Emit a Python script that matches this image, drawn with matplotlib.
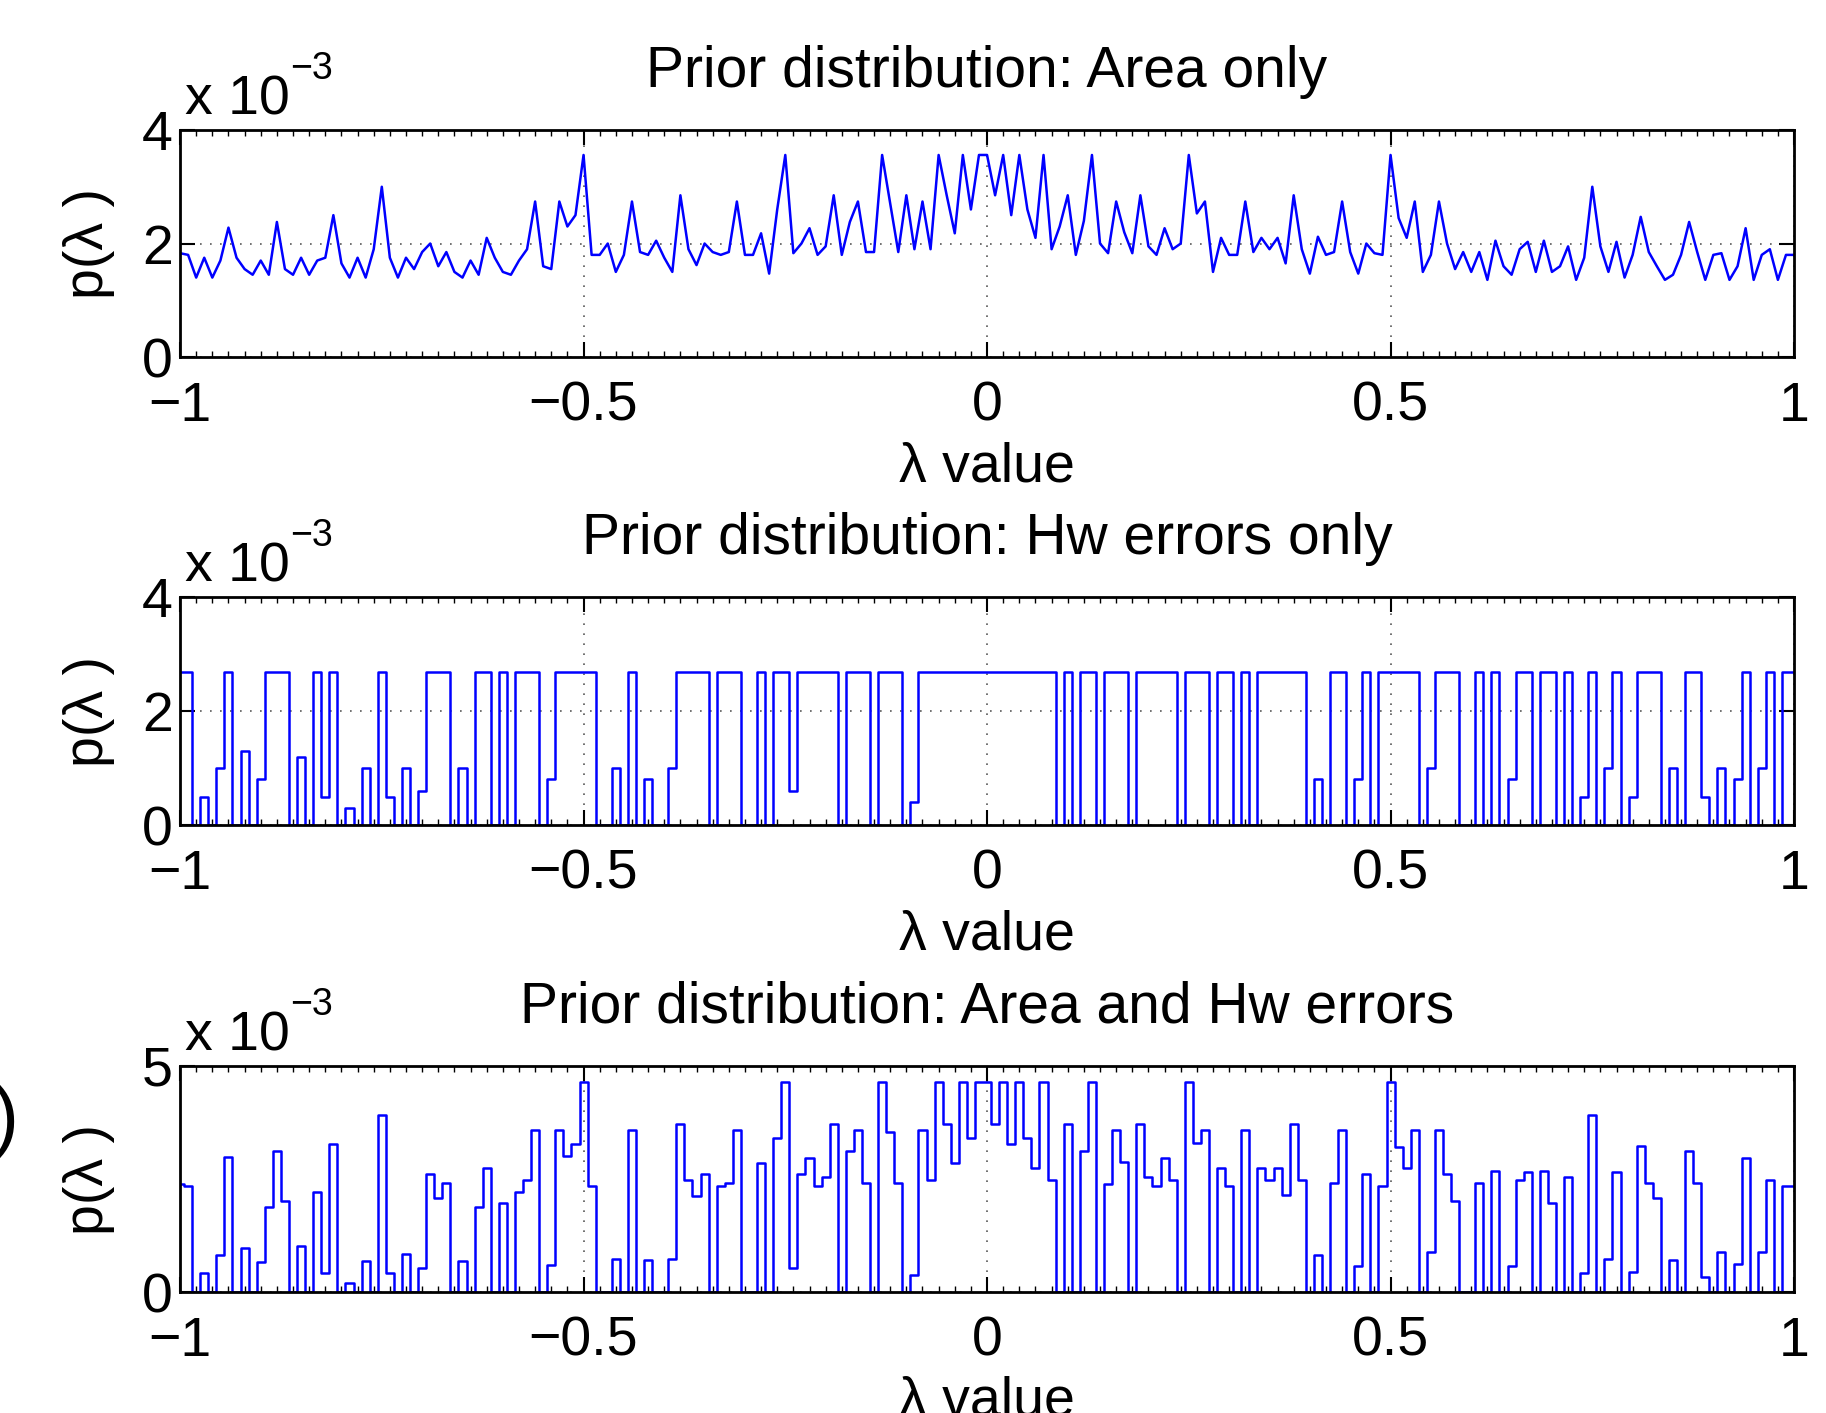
import numpy as np
import matplotlib
matplotlib.use('Agg')
import matplotlib.pyplot as plt
from matplotlib.ticker import MultipleLocator

plt.rcParams['font.family'] = ['Liberation Sans', 'DejaVu Sans']

# lambda grid, step 0.01
lam = np.linspace(-1, 1, 201)

# p(lambda) in units of 1e-3
p_area = [
    1.83, 1.80, 1.40, 1.75, 1.40, 1.70, 2.28, 1.75, 1.55, 1.45,
    1.70, 1.45, 2.38, 1.55, 1.45, 1.75, 1.45, 1.70, 1.75, 2.50,
    1.65, 1.40, 1.75, 1.40, 1.90, 3.00, 1.75, 1.40, 1.75, 1.55,
    1.85, 2.00, 1.60, 1.85, 1.50, 1.40, 1.70, 1.45, 2.10, 1.75,
    1.50, 1.45, 1.70, 1.90, 2.74, 1.60, 1.55, 2.74, 2.30, 2.50,
    3.56, 1.80, 1.80, 2.00, 1.50, 1.80, 2.74, 1.85, 1.80, 2.05,
    1.75, 1.50, 2.85, 1.90, 1.62, 2.00, 1.85, 1.80, 1.85, 2.74,
    1.80, 1.80, 2.18, 1.47, 2.60, 3.56, 1.83, 2.00, 2.27, 1.80,
    1.95, 2.85, 1.80, 2.38, 2.74, 1.85, 1.85, 3.56, 2.70, 1.85,
    2.85, 1.90, 2.74, 1.90, 3.56, 2.85, 2.18, 3.56, 2.60, 3.56,
    3.56, 2.85, 3.56, 2.50, 3.56, 2.60, 2.10, 3.56, 1.90, 2.30,
    2.85, 1.80, 2.40, 3.56, 2.00, 1.83, 2.74, 2.20, 1.83, 2.85,
    1.95, 1.80, 2.27, 1.90, 2.00, 3.56, 2.53, 2.74, 1.50, 2.10,
    1.80, 1.80, 2.74, 1.85, 2.10, 1.90, 2.10, 1.65, 2.85, 1.90,
    1.47, 2.12, 1.80, 1.85, 2.74, 1.85, 1.47, 2.00, 1.83, 1.80,
    3.56, 2.45, 2.10, 2.74, 1.50, 1.80, 2.74, 2.00, 1.55, 1.85,
    1.50, 1.85, 1.36, 2.05, 1.60, 1.45, 1.90, 2.03, 1.50, 2.05,
    1.50, 1.60, 1.95, 1.36, 1.75, 3.00, 1.95, 1.50, 2.03, 1.40,
    1.80, 2.47, 1.85, 1.60, 1.36, 1.45, 1.80, 2.38, 1.85, 1.36,
    1.80, 1.83, 1.36, 1.60, 2.27, 1.36, 1.80, 1.90, 1.36, 1.80,
    1.80,
]

p_hw = [
    2.68, 2.68, 0, 0.5, 0, 1.0, 2.68, 0, 1.3, 0,
    0.8, 2.68, 2.68, 2.68, 0, 1.2, 0, 2.68, 0.5, 2.68,
    0, 0.3, 0, 1.0, 0, 2.68, 0.5, 0, 1.0, 0,
    0.6, 2.68, 2.68, 2.68, 0, 1.0, 0, 2.68, 2.68, 0,
    2.68, 0, 2.68, 2.68, 2.68, 0, 0.8, 2.68, 2.68, 2.68,
    2.68, 2.68, 0, 0, 1.0, 0, 2.68, 0, 0.8, 0,
    0, 1.0, 2.68, 2.68, 2.68, 2.68, 0, 2.68, 2.68, 2.68,
    0, 0, 2.68, 0, 2.68, 2.68, 0.6, 2.68, 2.68, 2.68,
    2.68, 2.68, 0, 2.68, 2.68, 2.68, 0, 2.68, 2.68, 2.68,
    0, 0.4, 2.68, 2.68, 2.68, 2.68, 2.68, 2.68, 2.68, 2.68,
    2.68, 2.68, 2.68, 2.68, 2.68, 2.68, 2.68, 2.68, 2.68, 0,
    2.68, 0, 2.68, 2.68, 0, 2.68, 2.68, 2.68, 0, 2.68,
    2.68, 2.68, 2.68, 2.68, 0, 2.68, 2.68, 2.68, 0, 2.68,
    2.68, 0, 2.68, 0, 2.68, 2.68, 2.68, 2.68, 2.68, 2.68,
    0, 0.8, 0, 2.68, 2.68, 0, 0.8, 2.68, 0, 2.68,
    2.68, 2.68, 2.68, 2.68, 0, 1.0, 2.68, 2.68, 2.68, 0,
    0, 2.68, 0, 2.68, 0, 0.8, 2.68, 2.68, 0, 2.68,
    2.68, 0, 2.68, 0, 0.5, 2.68, 0, 1.0, 2.68, 0,
    0.5, 2.68, 2.68, 2.68, 0, 1.0, 0, 2.68, 2.68, 0.5,
    0, 1.0, 0, 0.8, 2.68, 0, 1.0, 2.68, 0, 2.68,
    2.68,
]

p_both = [
    2.39, 2.35, 0, 0.43, 0, 0.83, 2.98, 0, 0.98, 0,
    0.66, 1.89, 3.11, 2.02, 0, 1.02, 0, 2.22, 0.43, 3.27,
    0, 0.20, 0, 0.68, 0, 3.92, 0.43, 0, 0.85, 0,
    0.54, 2.61, 2.09, 2.42, 0, 0.68, 0, 1.89, 2.74, 0,
    1.96, 0, 2.22, 2.48, 3.58, 0, 0.60, 3.58, 3.00, 3.27,
    4.65, 2.35, 0, 0, 0.73, 0, 3.58, 0, 0.70, 0,
    0, 0.73, 3.72, 2.48, 2.12, 2.61, 0, 2.35, 2.42, 3.58,
    0, 0, 2.85, 0, 3.40, 4.65, 0.54, 2.61, 2.96, 2.35,
    2.55, 3.72, 0, 3.11, 3.58, 2.42, 0, 4.65, 3.53, 2.42,
    0, 0.37, 3.58, 2.48, 4.65, 3.72, 2.85, 4.65, 3.40, 4.65,
    4.65, 3.72, 4.65, 3.27, 4.65, 3.40, 2.74, 4.65, 2.48, 0,
    3.72, 0, 3.13, 4.65, 0, 2.39, 3.58, 2.87, 0, 3.72,
    2.55, 2.35, 2.96, 2.48, 0, 4.65, 3.30, 3.58, 0, 2.74,
    2.35, 0, 3.58, 0, 2.74, 2.48, 2.74, 2.15, 3.72, 2.48,
    0, 0.83, 0, 2.42, 3.58, 0, 0.57, 2.61, 0, 2.35,
    4.65, 3.20, 2.74, 3.58, 0, 0.88, 3.58, 2.61, 2.02, 0,
    0, 2.42, 0, 2.68, 0, 0.57, 2.48, 2.65, 0, 2.68,
    1.96, 0, 2.55, 0, 0.43, 3.92, 0, 0.73, 2.65, 0,
    0.44, 3.23, 2.42, 2.09, 0, 0.71, 0, 3.11, 2.42, 0.33,
    0, 0.89, 0, 0.62, 2.96, 0, 0.88, 2.48, 0, 2.35,
    2.35,
]

titles = ['Prior distribution: Area only',
          'Prior distribution: Hw errors only',
          'Prior distribution: Area and Hw errors']
series = [p_area, p_hw, p_both]
yticks = [[0, 2, 4], [0, 2, 4], [0, 5]]
xticks = [-1, -0.5, 0, 0.5, 1]
xticklabels = ['\u22121', '\u22120.5', '0', '0.5', '1']

fig = plt.figure(figsize=(18.26, 14.13), dpi=100)
boxes = [(0.0986, 0.7473, 0.8839, 0.1607),
         (0.0986, 0.4161, 0.8839, 0.1614),
         (0.0986, 0.0856, 0.8839, 0.1600)]
steps = ['default', 'steps-mid', 'steps-mid']

for box, vals, t, yt, ds in zip(boxes, series, titles, yticks, steps):
    ax = fig.add_axes(box)
    ax.plot(lam, vals, color='#0000ff', lw=1.8, drawstyle=ds)
    ax.set_xlim(-1, 1)
    ax.set_ylim(yt[0], yt[-1])
    ax.set_xticks(xticks)
    ax.set_xticklabels(xticklabels)
    ax.set_yticks(yt)
    ax.xaxis.set_minor_locator(MultipleLocator(0.02))
    ax.tick_params(which='major', direction='in', top=True, right=True,
                   length=11, width=1.5, labelsize=40)
    ax.tick_params(axis='x', which='major', pad=17)
    ax.tick_params(axis='y', which='major', pad=5)
    ax.tick_params(which='minor', direction='in', top=True, length=4, width=1)
    ax.grid(True, which='major', linestyle=(0, (1, 5)), color='0.35', lw=1.2)
    ax.set_axisbelow(True)
    for sp in ax.spines.values():
        sp.set_linewidth(2)
    ax.set_title(t, fontsize=41, pad=31)
    ax.set_xlabel('\u03bb value', fontsize=40)
    ax.xaxis.set_label_coords(0.5, -0.37)
    ax.set_ylabel('p(\u03bb )', fontsize=40)
    ax.yaxis.set_label_coords(-0.04, 0.5)
    ax.text(0.003, 1.07, 'x 10', transform=ax.transAxes, fontsize=40, va='baseline')
    ax.text(0.068, 1.225, '\u22123', transform=ax.transAxes, fontsize=27, va='baseline')

# clipped bracket at the left edge of the source scan
fig.text(-0.004, 1 - 1121 / 1413, ')', fontsize=56, va='center', ha='left')

fig.savefig('out.png', dpi=100)
